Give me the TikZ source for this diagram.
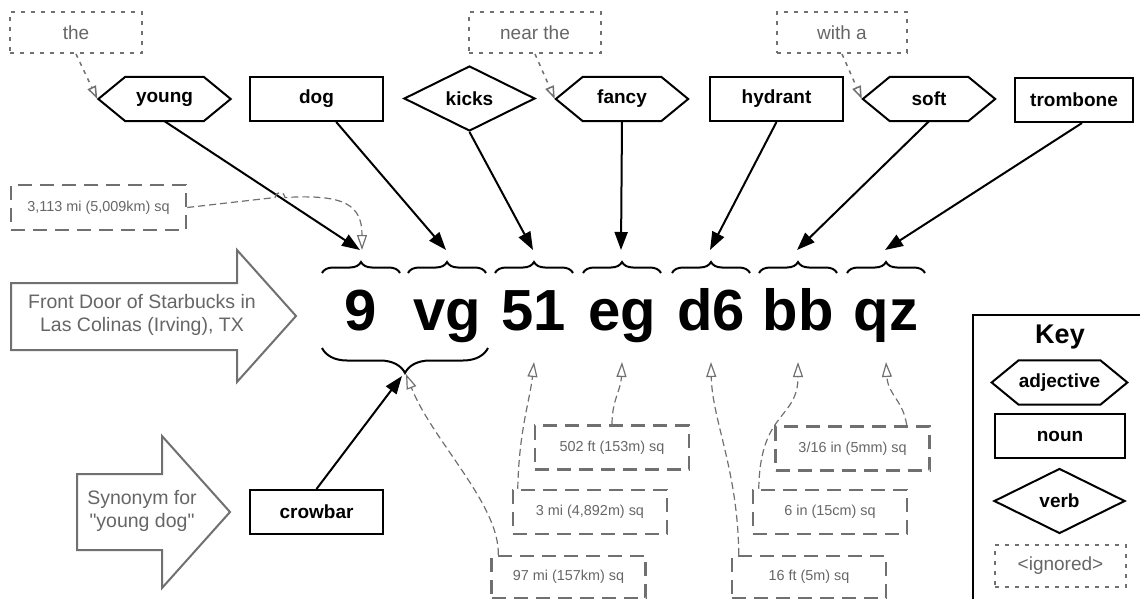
\documentclass[tikz,border=0pt]{standalone}
\usepackage{fontspec}
\setmainfont{Liberation Sans}[Ligatures=TeXOff]
\usetikzlibrary{arrows.meta,shapes.geometric,decorations.pathreplacing}
\definecolor{ashgray}{HTML}{707070}
\definecolor{txtgray}{HTML}{666666}
\newcommand{\wordfont}{\fontsize{19}{22}\selectfont\bfseries}
\tikzset{
  wordbox/.style={draw, line width=2pt, minimum width=133pt, minimum height=44pt, inner sep=0pt, font=\wordfont},
  adjbox/.style={minimum width=78pt, minimum height=44pt, inner sep=0pt, font=\wordfont},
  verbbox/.style={diamond, aspect=2, draw, line width=2pt, minimum width=131pt, minimum height=65pt, inner sep=0pt, font=\wordfont},
  ignbox/.style={draw=ashgray, line width=2pt, dash pattern=on 4pt off 6pt, minimum width=132pt, minimum height=41pt, inner sep=0pt, text=txtgray, font=\fontsize{19}{22}\selectfont},
  sizebox/.style={draw=ashgray, line width=2.5pt, dash pattern=on 14pt off 8pt, minimum width=154pt, minimum height=44pt, inner sep=0pt, text=txtgray, font=\fontsize{14.4}{17}\selectfont},
  letter/.style={anchor=base, inner sep=0pt, font=\fontsize{58}{60}\selectfont\bfseries},
  wordarrow/.style={line width=2pt, -{Triangle[length=18pt,width=13pt]}},
  hintarrow/.style={draw=ashgray, line width=1.2pt, dash pattern=on 7pt off 4pt, -{Triangle[open,length=15pt,width=10pt]}},
  ignarrow/.style={draw=ashgray, line width=1.5pt, dash pattern=on 4pt off 5pt, -{Triangle[open,length=13pt,width=9pt]}},
  bigarrow/.style={draw=ashgray, line width=2pt, fill=white},
  bigtext/.style={text=txtgray, align=center, font=\fontsize{19.5}{23}\selectfont},
  wordbrace/.style={decorate, line width=2pt},
}
\begin{document}
\begin{tikzpicture}[x=1pt,y=-1pt]
\useasboundingbox (0,0) rectangle (1140,599);

% words of the phrase
\node[ignbox] (the) at (76,32.5) {the};
\node[ignbox] (nearthe) at (535,32.5) {near the};
\node[ignbox, minimum width=130pt] (witha) at (842,32.5) {with a};
\node[adjbox] (young) at (164.5,99) {young};
\node[wordbox] (dog) at (316.5,99) {dog};
\node[verbbox] (kicks) at (469.5,98.5) {kicks};
\node[adjbox] (fancy) at (622,99) {fancy};
\node[wordbox] (hydrant) at (776.5,99) {hydrant};
\node[adjbox] (soft) at (929,99) {soft};
\node[wordbox, minimum width=118pt] (trombone) at (1074,100) {trombone};
\node[wordbox] (crowbar) at (316.5,512) {crowbar};

% key
\draw[line width=2pt] (973,315) rectangle (1150,610);
\node[font=\fontsize{27}{30}\selectfont\bfseries] (keytitle) at (1060,337) {Key};
\node[adjbox] (kadj) at (1059.5,382.5) {adjective};
\node[wordbox, minimum width=130pt] (knoun) at (1060,436) {noun};
\node[verbbox] (kverb) at (1059.5,501) {verb};
\node[ignbox, minimum width=131pt, minimum height=42pt] (kign) at (1060.5,566) {<ignored>};

\foreach \n in {young,fancy,soft,kadj}
{
    \draw[line width=2pt] ([xshift=-27pt]\n.west) -- (\n.north west) -- (\n.north east)
      -- ([xshift=27pt]\n.east) -- (\n.south east) -- (\n.south west) -- cycle;
}

% the code letters with their braces
\foreach \t/\x [count=\i] in {9/361,vg/447,51/534,eg/622,d6/711,bb/798,qz/886}
{
    \node[letter] (l\i) at (\x,330) {\t};
    \draw[wordbrace, decoration={brace,amplitude=11pt}] (\x-39,273) -- (\x+39,273);
    \coordinate (t\i) at (\x-1,250);
    \coordinate (u\i) at (\x,362);
}
\draw[wordbrace, decoration={brace,amplitude=25pt}] (488,348) -- (322,348);
\coordinate (b0) at (402,376);
\coordinate (b1) at (406,374);

% big gray arrows
\draw[bigarrow] (11,283) -- (237,283) -- (237,250) -- (296,316) -- (237,382) -- (237,350) -- (11,350) -- cycle;
\node[bigtext] (place) at (142,315) {Front Door of Starbucks in\\Las Colinas (Irving), TX};
\draw[bigarrow] (77,474) -- (162,474) -- (162,436) -- (230,512) -- (162,588) -- (162,550) -- (77,550) -- cycle;
\node[bigtext] (synonym) at (142,511) {Synonym for\\"young dog"};

% measurements
\node[sizebox, minimum width=175pt, minimum height=45pt] (m3113) at (98.5,207.5) {3,113 mi (5,009km) sq};
\node[sizebox, minimum height=42pt] (m97) at (568.5,577) {97 mi (157km) sq};
\node[sizebox] (m3) at (590,512) {3 mi (4,892m) sq};
\node[sizebox] (m502) at (612,447.5) {502 ft (153m) sq};
\node[sizebox, minimum height=42pt] (m16) at (809,577) {16 ft (5m) sq};
\node[sizebox] (m6) at (830,512) {6 in (15cm) sq};
\node[sizebox] (m316) at (852.5,448.5) {3/16 in (5mm) sq};

% connectors
\draw[wordarrow] (young.south) -- (t1);
\draw[wordarrow] (dog) -- (t2);
\draw[wordarrow] (kicks.south) -- (t3);
\draw[wordarrow] (fancy.south) -- (t4);
\draw[wordarrow] (hydrant.south) -- (t5);
\draw[wordarrow] (soft.south) -- (t6);
\draw[wordarrow] ([xshift=8pt]trombone.south) -- (t7);
\draw[wordarrow] (crowbar.north) -- (b0);

\draw[ignarrow] (the.south) -- ([xshift=-28pt]young.west);
\draw[ignarrow] (nearthe.south) -- ([xshift=-28pt]fancy.west);
\draw[ignarrow] (witha.south) -- ([xshift=-28pt]soft.west);

\draw[hintarrow] (m3113.east) -- (275,197.5) arc[start angle=180,end angle=360,radius=5]
  .. controls (345,194) and (362,205) .. ([xshift=2pt]t1);
\draw[hintarrow] ([xshift=8pt]m97.north west) .. controls (500,505) and (432,440) .. (b1);
\draw[hintarrow] ([xshift=6pt]m3.north west) .. controls (519,430) and (530,400) .. (u3);
\draw[hintarrow] (m502.north) .. controls (612,400) and (621,390) .. (u4);
\draw[hintarrow] ([xshift=8pt]m16.north west) .. controls (738,470) and (712,420) .. (u5);
\draw[hintarrow] ([xshift=7pt]m6.north west) .. controls (760,410) and (798,420) .. (u6);
\draw[hintarrow] ([xshift=-24pt]m316.north east) .. controls (903,400) and (888,395) .. (u7);
\end{tikzpicture}
\end{document}
